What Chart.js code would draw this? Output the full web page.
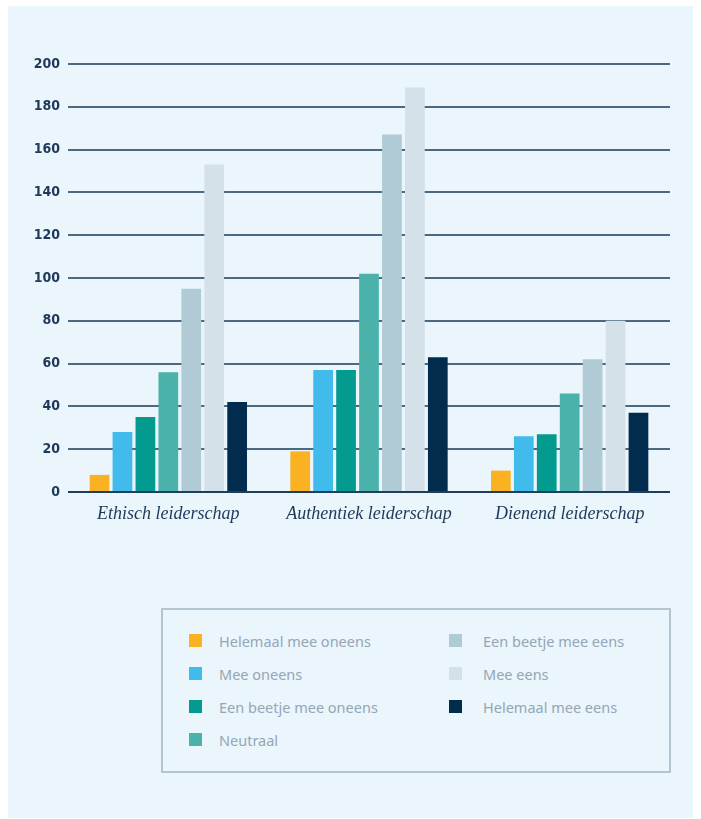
<!DOCTYPE html>
<html>
<head>
<meta charset="utf-8">
<script src="https://cdn.jsdelivr.net/npm/chart.js@4/dist/chart.umd.min.js"></script>
<style>
  html, body { margin: 0; padding: 0; background: #ffffff; }
  #panel {
    position: absolute; left: 8px; top: 6px; width: 685px; height: 812px;
    background: #eaf5fc;
  }
  #wrap { position: absolute; left: 0; top: 0; width: 701px; height: 560px; }
  #legend {
    position: absolute; left: 161px; top: 608px; width: 510px; height: 165px;
    border: 2px solid #b3c5d0; box-sizing: border-box;
    display: grid; grid-auto-flow: column;
    grid-template-rows: repeat(4, 33px); grid-template-columns: 260px 220px;
    padding: 14px 0 0 26px;
    font-family: "Noto Sans", "Open Sans", sans-serif; font-size: 14.5px; color: #95a6b4;
  }
  .item { display: flex; align-items: center; height: 33px; }
  .sw { width: 13px; height: 13px; margin-right: 17px; flex: none; }
  .item.c2 .sw { margin-right: 21px; }
</style>
</head>
<body>
<div id="panel"></div>
<div id="wrap"><canvas id="chart"></canvas></div>
<div id="legend"></div>
<script>
const categories = ["Ethisch leiderschap", "Authentiek leiderschap", "Dienend leiderschap"];
const seriesLabels = [
  "Helemaal mee oneens",
  "Mee oneens",
  "Een beetje mee oneens",
  "Neutraal",
  "Een beetje mee eens",
  "Mee eens",
  "Helemaal mee eens"
];
const helemaalOneens = [8, 19, 10];
const meeOneens = [28, 57, 26];
const beetjeOneens = [35, 57, 27];
const neutraal = [56, 102, 46];
const beetjeEens = [95, 167, 62];
const meeEens = [153, 189, 80];
const helemaalEens = [42, 63, 37];
const yTicks = [0, 20, 40, 60, 80, 100, 120, 140, 160, 180, 200];

const colors = ["#fbb222", "#41bbec", "#039b8f", "#4ab2aa", "#b0cbd6", "#d4e1e9", "#022c4e"];
const values = [helemaalOneens, meeOneens, beetjeOneens, neutraal, beetjeEens, meeEens, helemaalEens];

const datasets = seriesLabels.map((label, i) => ({
  label: label,
  data: values[i],
  backgroundColor: colors[i],
  borderWidth: 0,
  categoryPercentage: 0.8,
  barPercentage: 0.86
}));

const chart = new Chart(document.getElementById("chart"), {
  type: "bar",
  data: { labels: categories, datasets: datasets },
  options: {
    responsive: true,
    maintainAspectRatio: false,
    animation: false,
    layout: { padding: { left: 0, right: 31, top: 64, bottom: 28 } },
    plugins: { legend: { display: false }, tooltip: { enabled: false } },
    scales: {
      x: {
        grid: { display: false, drawTicks: false },
        border: { display: false },
        afterFit: (axis) => { axis.height = 40; },
        ticks: {
          padding: 11,
          color: "#1e3a58",
          font: { family: "'Liberation Serif', 'DejaVu Serif', serif", style: "italic", size: 18 }
        }
      },
      y: {
        min: 0,
        max: 200,
        afterFit: (axis) => { axis.width = 68; },
        afterBuildTicks: (axis) => { axis.ticks = yTicks.map(v => ({ value: v })); },
        border: { display: false },
        grid: {
          drawTicks: false,
          lineWidth: 2,
          color: (ctx) => ctx.tick && ctx.tick.value === 0 ? "#1f3d5c" : "#4b6a82"
        },
        ticks: {
          padding: 8,
          color: "#1e3a58",
          font: { family: "'Liberation Sans Narrow', 'DejaVu Sans Condensed', sans-serif", weight: "bold", size: 14 }
        }
      }
    }
  }
});

const legend = document.getElementById("legend");
chart.data.datasets.forEach((ds, i) => {
  const item = document.createElement("div");
  item.className = "item" + (i >= 4 ? " c2" : "");
  const sw = document.createElement("span");
  sw.className = "sw";
  sw.style.background = ds.backgroundColor;
  const txt = document.createElement("span");
  txt.textContent = ds.label;
  item.appendChild(sw);
  item.appendChild(txt);
  legend.appendChild(item);
});
</script>
</body>
</html>
